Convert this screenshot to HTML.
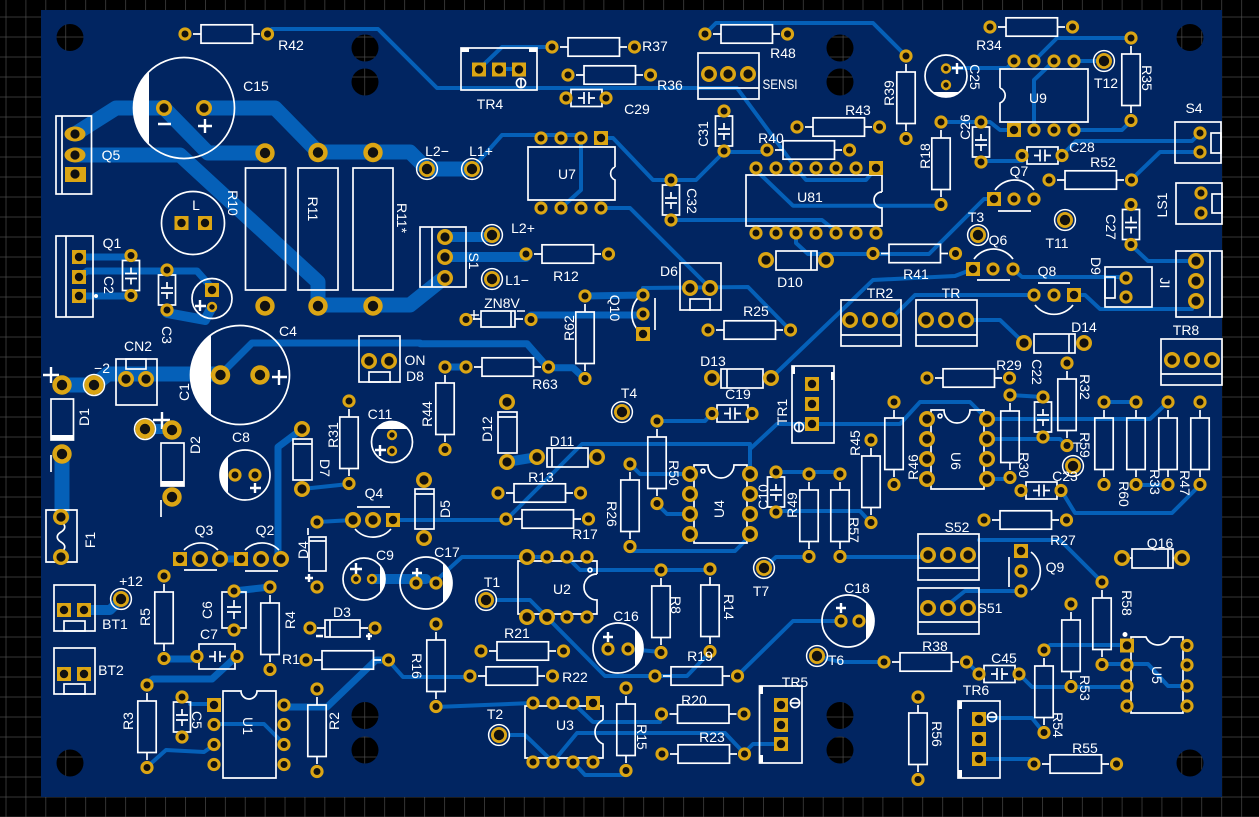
<!DOCTYPE html>
<html><head><meta charset="utf-8"><style>
html,body{margin:0;padding:0;background:#000}
svg{display:block}
text{fill:#fff;font-family:"Liberation Sans",sans-serif;font-size:14px;text-anchor:middle;dominant-baseline:central}
.t{fill:none;stroke:#0560b8;stroke-linejoin:round;stroke-linecap:round}
.s{fill:none;stroke:#fff;stroke-width:1.7}
.w{fill:#fff;stroke:none}
</style></head><body>
<svg xmlns="http://www.w3.org/2000/svg" width="1259" height="817" viewBox="0 0 1259 817">
<defs>
<pattern id="g" x="5.7" y="16.7" width="19.93" height="20" patternUnits="userSpaceOnUse"><path d="M0 0V20M0 0H19.93" stroke="#555" stroke-width="1.2" fill="none"/></pattern>
<g id="p"><circle r="6.6" fill="#dba514"/><circle r="3.5" fill="#111"/></g>
<g id="o"><circle r="5.2" fill="#dba514"/><circle r="2.7" fill="#111"/></g>
<g id="m"><circle r="8" fill="#dba514"/><circle r="4.6" fill="#111"/></g>
<g id="b"><circle r="9.7" fill="#dba514"/><circle r="5.2" fill="#111"/></g>
<g id="q"><rect x="-7" y="-7" width="14" height="14" fill="#dba514"/><circle r="4.2" fill="#111"/></g>
<g id="tp"><circle r="10.4" fill="none" stroke="#fff" stroke-width="1.5"/><circle r="8" fill="#dba514"/><circle r="5.2" fill="#111"/></g>
<g id="rh"><path class="s" d="M8 0H16M67.5 0H75"/><rect class="s" x="16" y="-9.2" width="51.5" height="18.4"/><use href="#p"/><use href="#p" x="82.5"/></g>
<g id="rv"><path class="s" d="M0 8V16M0 67.5V75"/><rect class="s" x="-9.2" y="16" width="18.4" height="51.5"/><use href="#p"/><use href="#p" y="82.5"/></g>
<g id="ch"><rect class="s" x="5" y="-8.5" width="31" height="17"/><path class="s" d="M12 0H18M18 -6V6M23 -6V6M23 0H29"/><use href="#p"/><use href="#p" x="40"/></g>
<g id="cv"><rect class="s" x="-8.5" y="5" width="17" height="30"/><path class="s" d="M0 12V18M-6 18H6M-6 23H6M0 23V29"/><use href="#p"/><use href="#p" y="40"/></g>
</defs>
<rect width="1259" height="817" fill="#000"/>
<rect width="1259" height="817" fill="url(#g)"/>
<path fill="#012561" fill-rule="evenodd" d="M41 10H1222V797H41Z
M56.5 37.5a13.5 13.5 0 1 0 27 0a13.5 13.5 0 1 0-27 0Z
M351.5 48a13.5 13.5 0 1 0 27 0a13.5 13.5 0 1 0-27 0Z
M351.5 82a13.5 13.5 0 1 0 27 0a13.5 13.5 0 1 0-27 0Z
M826.5 48a13.5 13.5 0 1 0 27 0a13.5 13.5 0 1 0-27 0Z
M826.5 82a13.5 13.5 0 1 0 27 0a13.5 13.5 0 1 0-27 0Z
M1176.5 37.5a13.5 13.5 0 1 0 27 0a13.5 13.5 0 1 0-27 0Z
M56.5 763a13.5 13.5 0 1 0 27 0a13.5 13.5 0 1 0-27 0Z
M351.5 715.5a13.5 13.5 0 1 0 27 0a13.5 13.5 0 1 0-27 0Z
M351.5 750a13.5 13.5 0 1 0 27 0a13.5 13.5 0 1 0-27 0Z
M826.5 715.5a13.5 13.5 0 1 0 27 0a13.5 13.5 0 1 0-27 0Z
M826.5 750a13.5 13.5 0 1 0 27 0a13.5 13.5 0 1 0-27 0Z
M1176.5 763a13.5 13.5 0 1 0 27 0a13.5 13.5 0 1 0-27 0Z"/>

<!-- thick traces -->
<g class="t" stroke-width="15">
<path d="M75 134L116 108H164L208 153H265"/>
<path d="M204 108H275L318 152H410L427 169H472"/>
<path d="M75 155H180L318 282V305H410L440 281"/>
<path d="M62 385H94L108 374H220"/>
<path d="M62 454V517"/>
</g>
<g class="t" stroke-width="10">
<path d="M445 237H492M445 257H526"/>
<path d="M84 610H110L121 599"/>
<path d="M372 579H426"/>
<path d="M145 429H172"/>
<path d="M167 313L205 320L212 307"/>
<path d="M507 462L537 457"/>
</g>
<g class="t" stroke-width="7">
<path d="M531 315H643M585 296L643 295"/>
<path d="M445 367H466"/>
<path d="M420 343.7H527L548 367.7H573L585 379"/>
<path d="M220 375L252 343H420"/>
<path d="M164 659H197M147 685L153 679H212L237 656"/>
<path d="M234 591L270 587"/>
<path d="M388 660H376L327 707H285"/>
<path d="M302 429L278 447V559H281"/>
<path d="M220 559H241"/>
<path d="M79 257H131M79 277L87 271H197L212 288M79 296H131"/>
</g>
<g class="t" stroke-width="4">
<path d="M272 29H378L437 88H737L796 168L806 180H866L876 168"/>
<path d="M705 34L716 23H873L906 56"/>
<path d="M479 69L502 47H552M499 69H519"/>
<path d="M472 169L502 135H581M581 138V190L561 208"/>
<path d="M601 138H613L653 180H696L724 152H767"/>
<path d="M671 220H822L837 232"/>
<path d="M601 208H630L710 288"/>
<path d="M643 288L748 287L790 330"/>
<path d="M761 175L793 205.7H941"/>
<path d="M796 232V243L808 254H873M808 254H929L984 199H994"/>
<path d="M771 378L840 312L873 280L955 276L973 269"/>
<path d="M1013 269L1022 277H1126"/>
<path d="M890 320L915 295H1034M1074 295H1085L1100 309H1192"/>
<path d="M966 320H1000L1024 343"/>
<path d="M947 68H1007L1014 61M1034 61L1057 38H1131M1054 61L1034 80V130M1074 61H1104M1074 130H1122L1131 121"/>
<path d="M941 122H990L1000 130H1014M981 161H1022"/>
<path d="M1062 155L1076 141H1192L1200 133M1131 180L1160 152H1200"/>
<path d="M1131 245L1148 261H1196"/>
<path d="M840 424H900L920 402H970L987 419H1150L1168 402"/>
<path d="M987 439H1060L1067 446M987 479H1010M1010 395L1043 397"/>
<path d="M1061 490L1075 513H1172L1200 485"/>
<path d="M1104 402H1136M1136 485H1168"/>
<path d="M393 520H506L582 444H750V467M750 449L777 424H840"/>
<path d="M657 421H705L712 413"/>
<path d="M630 464L640 474H690M657 504L667 514H690"/>
<path d="M776 472H840M776 511H860L871 523"/>
<path d="M633 551H735L750 536"/>
<path d="M317 522L353 520M302 489L349 484"/>
<path d="M440 577L462 557H547"/>
<path d="M567 557L580 570H710"/>
<path d="M497 600H530L605 676H655H687L710 652"/>
<path d="M737 676L793 621H841"/>
<path d="M628 649L661 652"/>
<path d="M388 660L403 677H470"/>
<path d="M436 707L533 703"/>
<path d="M573 703L593 722H660L662 714"/>
<path d="M573 762L585 775H626"/>
<path d="M510 735H525L553 762L577 733H725L744 753L753 744H781"/>
<path d="M214 724H264L284 744M190 704H214"/>
<path d="M147 767L166 750L204 752L214 745"/>
<path d="M764 568L776 557H809"/>
<path d="M840 557H928"/>
<path d="M950 603L965 591H1021"/>
<path d="M979 540H1060L1102 582"/>
<path d="M817 656L840 662H884M967 662L979 674M1019 674L1032 687H1127"/>
<path d="M1044 650L1050 645H1127M1102 664H1148L1168 686H1187"/>
<path d="M992 718H1032L1044 733M979 759H1030L1034 764"/>
</g>

<!-- silk -->
<g class="s">
<circle cx="184" cy="108" r="50.5"/>
<rect x="56" y="116" width="35.5" height="78"/><path d="M62 116V194"/>
<rect x="245.5" y="168" width="40" height="122"/><rect x="298" y="168" width="40" height="122"/><rect x="353" y="168" width="40" height="122"/>
<circle cx="193" cy="223" r="31.5"/>
<rect x="56" y="236" width="37" height="81"/><path d="M66 236V317"/>
<circle cx="212" cy="298.5" r="20"/>
<circle cx="240" cy="375" r="49.5"/>
<rect x="116" y="359" width="41" height="46"/><rect x="126" y="359" width="20" height="10"/>
<rect x="51" y="399" width="22.5" height="41"/><path d="M51 455V472"/>
<path d="M46 552V510H77V562H46V552M61 522c5 3 5 7 0 10s-5 7 0 10s5 7 0 10"/>
<rect x="161" y="443" width="23" height="43"/><path d="M161 500V517"/>
<circle cx="245" cy="475" r="25"/>
<rect x="293" y="439" width="19" height="41"/><path d="M293 444H312"/>
<circle cx="392" cy="442" r="20.5"/>
<rect x="359" y="336" width="41" height="46"/><rect x="369" y="372" width="21" height="10"/>
<path d="M357 507H390M355 529A24 24 0 0 0 391 529"/>
<path d="M184 550A24 24 0 0 1 218 550M184 570H217M245 550A24 24 0 0 1 279 550M245 571H278"/>
<rect x="309" y="537" width="17" height="34"/><path d="M309 541H326M308 528V535"/>
<rect x="415" y="489" width="19" height="40"/><path d="M415 494H434"/>
<circle cx="364" cy="579" r="21"/><circle cx="426" cy="583" r="26"/>
<path d="M597 574V561H518V614H597V600A13 13 0 0 1 597 574"/>
<circle cx="618" cy="648" r="25"/>
<path d="M223 691H241A8 8 0 0 0 257 691H276V778H223Z"/>
<rect x="222" y="592" width="24" height="36"/><path d="M234 600V607M227 607H241M227 612H241M234 612V619"/>
<rect x="199" y="644" width="36" height="25"/><path d="M209 656.5H215M215 651V662M220 651V662M220 656.5H226"/>
<rect x="54" y="585" width="41" height="46"/><rect x="64" y="621" width="21" height="10"/>
<rect x="54" y="648" width="41" height="46"/><rect x="64" y="684" width="21" height="10"/>
<path d="M325 620H360V637H325ZM330 620V637M317 628H325M360 628H368"/>
<path d="M603 720V706H525V758H603V744A13 13 0 0 1 603 720"/>
<rect x="759.5" y="686" width="42.5" height="77"/>
<circle cx="848" cy="621" r="26"/>
<rect x="918" y="534" width="61" height="46"/><path d="M918 568H979"/>
<rect x="918" y="588" width="61" height="46"/><path d="M918 622H979"/>
<path d="M1009 557V587M1031 552A24 24 0 0 1 1031 590"/>
<rect x="1132" y="549" width="41" height="19"/><path d="M1168 549V568M1122 558H1132M1173 558H1182"/>
<path d="M1131 650V713H1183V637H1170A13 13 0 0 1 1146 637H1131V650"/>
<rect x="958" y="701" width="42" height="77"/>
<rect x="1034" y="334" width="41" height="19"/><path d="M1069 334V353"/>
<rect x="916" y="300" width="61" height="46"/><path d="M916 335H977"/>
<rect x="841" y="300" width="60" height="46"/><path d="M841 335H901"/>
<path d="M1038 283H1070M1035 305A24 24 0 0 0 1073 305"/>
<rect x="1161" y="339" width="61" height="46"/><path d="M1161 374H1222"/>
<rect x="1176" y="251" width="46" height="66"/><path d="M1210 251V317"/>
<rect x="1105" y="267" width="47" height="40"/><rect x="1105" y="277" width="10" height="21"/>
<path d="M974 259A24 24 0 0 1 1013 259M977 280H1010"/>
<path d="M995 190A24 24 0 0 1 1034 190M998 211H1031"/>
<rect x="776" y="251" width="41" height="19"/><path d="M811 251V270"/>
<path d="M882 192V175H746V226H882V208A8 8 0 0 1 882 192"/>
<rect x="461" y="48" width="76" height="42"/>
<rect x="698" y="53" width="61" height="46"/><path d="M698 88H759"/>
<circle cx="946" cy="76" r="21"/>
<path d="M1000 88V69H1088V122H1000V103A8 8 0 0 0 1000 88"/>
<path d="M615 167V147H528V200H615V180A7 7 0 0 1 615 167"/>
<rect x="420" y="227" width="46" height="60"/><path d="M432 227V287"/>
<rect x="680" y="263" width="41" height="47"/><rect x="690" y="299" width="20" height="11"/>
<path d="M481 311H515V327H481ZM511 311V327M473 319H481M515 319H523"/>
<path d="M655 298V330M640 296A24 24 0 0 0 640 332"/>
<rect x="721" y="369" width="42" height="19"/><path d="M727 369V388"/>
<rect x="792" y="366" width="42" height="77"/>
<rect x="498" y="412" width="19" height="41"/><path d="M498 417H517"/>
<rect x="547" y="448" width="41" height="19"/><path d="M552 448V467"/>
<path d="M694 465H708A13 13 0 0 0 734 465H747V543H694Z"/>
<path d="M931 410H944A13 13 0 0 0 970 410H984V489H931Z"/>
<rect x="1175" y="122" width="46" height="41"/><rect x="1211" y="133" width="10" height="20"/>
<rect x="1176" y="183" width="46" height="41"/><rect x="1212" y="194" width="10" height="19"/>
</g>
<!-- white fills -->
<g class="w">
<path d="M149 71.6A50.5 50.5 0 0 0 149 144.4Z"/>
<path d="M211 334.3A50 50 0 0 0 211 415.7Z"/>
<path d="M228 456.7A25 25 0 0 0 228 493.3Z"/>
<path d="M376 429A20.5 20.5 0 0 1 408 429Z"/>
<path d="M380 565.4A21 21 0 0 1 380 592.6Z"/>
<path d="M443 563.3A26 26 0 0 1 443 602.7Z"/>
<path d="M635 629.7A25 25 0 0 1 635 666.3Z"/>
<path d="M866 602.2A26 26 0 0 1 866 639.8Z"/>
<path d="M932.4 92A21 21 0 0 0 959.6 92Z"/>
<rect x="51" y="435" width="22.5" height="5.5"/>
<rect x="161" y="481" width="23" height="5.5"/>
<circle cx="96" cy="296" r="2"/><circle cx="1125" cy="634.5" r="2.5"/>
<rect x="461" y="48" width="8" height="4"/><rect x="529" y="48" width="8" height="4"/>
<rect x="759.5" y="686" width="3.5" height="8"/><rect x="759.5" y="755" width="3.5" height="8"/>
<rect x="958" y="701" width="4" height="8"/><rect x="958" y="770" width="4" height="8"/>
<rect x="792" y="366" width="3" height="8"/><rect x="831" y="372" width="3" height="8"/>
</g>
<!-- plus / minus marks -->
<g stroke="#fff" stroke-width="2.4" fill="none">
<path d="M158 124H171M198 126H212M205 119V133"/>
<path d="M43 375H59M51 367V383M153 420H170M162 412V429M272 377H287M279 370V385"/>
<path d="M250 488H261M255 483V493M375 450H386M380 445V456M350 569H362M356 563V575"/>
<path d="M412 573H422M417 568V578M603 637H613M608 632V642M836 608H846M841 603V613"/>
<path d="M195 306H206M200 300V311M952 68H963M957 63V74M305 578H313M309 574V582M366 636H372M369 633V640M316 636H323"/>
</g>
<g stroke="#fff" stroke-width="1.4" fill="none">
<path d="M469 315H479M474 310V320M517 311H525"/>
</g>

<!-- components with pads -->
<use href="#rh" x="185" y="34"/><use href="#rh" x="705" y="34"/><use href="#rh" x="552" y="47"/><use href="#rh" x="568" y="75"/>
<use href="#rh" x="990" y="27"/><use href="#rh" x="797" y="127"/><use href="#rh" x="767" y="150"/><use href="#rh" x="1049" y="180"/>
<use href="#rh" x="873" y="253.5"/><use href="#rh" x="526" y="254"/><use href="#rh" x="708" y="330"/><use href="#rh" x="466" y="367"/>
<use href="#rh" x="927" y="378"/><use href="#rh" x="498" y="493"/><use href="#rh" x="506" y="519"/><use href="#rh" x="984" y="520"/>
<use href="#rh" x="481" y="651"/><use href="#rh" x="306" y="660"/><use href="#rh" x="884" y="662"/><use href="#rh" x="470" y="676"/>
<use href="#rh" x="655" y="676"/><use href="#rh" x="661.5" y="714"/><use href="#rh" x="662" y="754"/><use href="#rh" x="1034" y="764"/>
<use href="#rv" x="906" y="56"/><use href="#rv" x="1131" y="38"/><use href="#rv" x="941" y="122"/><use href="#rv" x="585" y="296"/>
<use href="#rv" x="1067" y="363"/><use href="#rv" x="445" y="367"/><use href="#rv" x="1010" y="395"/><use href="#rv" x="349" y="401"/>
<use href="#rv" x="894" y="402"/><use href="#rv" x="1104" y="402"/><use href="#rv" x="1136" y="402"/><use href="#rv" x="1168" y="402"/><use href="#rv" x="1200" y="402"/>
<use href="#rv" x="657" y="421"/><use href="#rv" x="871" y="440"/><use href="#rv" x="630" y="464"/><use href="#rv" x="809" y="474"/><use href="#rv" x="840" y="474"/>
<use href="#rv" x="661" y="570"/><use href="#rv" x="710" y="569"/><use href="#rv" x="164" y="576"/><use href="#rv" x="270" y="587"/>
<use href="#rv" x="1102" y="582"/><use href="#rv" x="1071" y="604"/><use href="#rv" x="436" y="624"/><use href="#rv" x="1044" y="650"/>
<use href="#rv" x="147" y="685"/><use href="#rv" x="317" y="689"/><use href="#rv" x="626" y="688"/><use href="#rv" x="918" y="697"/>
<use href="#ch" x="566" y="98"/><use href="#ch" x="1022" y="155.5"/><use href="#ch" x="712" y="413.5"/><use href="#ch" x="1021" y="490.5"/><use href="#ch" x="979" y="674"/>
<use href="#p" x="197" y="656.5"/><use href="#p" x="237" y="656.5"/>
<use href="#cv" x="724" y="111"/><use href="#cv" x="671" y="180"/><use href="#cv" x="981" y="122"/><use href="#cv" x="1131" y="204.5"/>
<use href="#cv" x="1043" y="397"/><use href="#cv" x="776" y="472"/><use href="#cv" x="182" y="697"/><use href="#cv" x="131" y="255.5"/><use href="#cv" x="167" y="270"/>
<use href="#p" x="234" y="591"/><use href="#p" x="234" y="630"/>

<!-- Q5 pads -->
<ellipse cx="75" cy="134" rx="10.5" ry="7.5" fill="#dba514"/><circle cx="75" cy="134" r="4.6" fill="#111"/>
<ellipse cx="75" cy="155" rx="10.5" ry="7.5" fill="#dba514"/><circle cx="75" cy="155" r="4.6" fill="#111"/>
<rect x="65" y="167" width="21" height="15" fill="#dba514"/><circle cx="75" cy="174" r="4.6" fill="#111"/>
<!-- big/medium pads -->
<use href="#m" x="164" y="108"/><use href="#m" x="204" y="108"/>
<use href="#b" x="265" y="153"/><use href="#b" x="318" y="152.5"/><use href="#b" x="373" y="152.5"/>
<use href="#b" x="265" y="306"/><use href="#b" x="318" y="306"/><use href="#b" x="373" y="306"/>
<use href="#b" x="220.5" y="375"/><use href="#b" x="260" y="375"/>
<use href="#b" x="62" y="385"/><circle cx="94" cy="385" r="10.5" fill="none" stroke="#fff" stroke-width="1.5"/><use href="#b" x="94" y="385"/>
<use href="#b" x="62" y="454"/><use href="#m" x="61" y="517"/><use href="#m" x="61" y="557"/>
<circle cx="145" cy="429" r="10.5" fill="none" stroke="#fff" stroke-width="1.5"/><use href="#b" x="145" y="429"/><use href="#b" x="172" y="430"/><use href="#b" x="172" y="497"/>
<use href="#p" x="235" y="475"/><use href="#p" x="255" y="475"/>
<use href="#m" x="302" y="429"/><use href="#m" x="302" y="489"/>
<use href="#m" x="126" y="379"/><use href="#m" x="146" y="379"/><use href="#m" x="369" y="361"/><use href="#m" x="389" y="361"/>
<use href="#o" x="392" y="435"/><use href="#o" x="392" y="451"/><use href="#o" x="356" y="579"/><use href="#o" x="372" y="579"/>
<use href="#p" x="416" y="583"/><use href="#p" x="436" y="583"/><use href="#p" x="608" y="649"/><use href="#p" x="628" y="649"/>
<use href="#p" x="841" y="621"/><use href="#p" x="859" y="621"/><use href="#o" x="946" y="68.5"/><use href="#o" x="946" y="85"/>
<use href="#q" x="181.5" y="223"/><use href="#q" x="205" y="223"/>
<use href="#q" x="79" y="257"/><use href="#q" x="79" y="277"/><use href="#q" x="79" y="296"/>
<use href="#q" x="212" y="290"/><use href="#o" x="212" y="307"/>
<use href="#p" x="317" y="522"/><use href="#p" x="317" y="587"/>
<use href="#m" x="353" y="520"/><use href="#m" x="373" y="520"/><use href="#q" x="393" y="520"/>
<use href="#q" x="180" y="559"/><use href="#m" x="200" y="559"/><use href="#m" x="220" y="559"/>
<use href="#q" x="241" y="559"/><use href="#m" x="261" y="559"/><use href="#m" x="281" y="559"/>
<use href="#m" x="424" y="480"/><use href="#m" x="424" y="538"/>
<use href="#q" x="64" y="610"/><use href="#q" x="84" y="610"/><use href="#q" x="64" y="674"/><use href="#q" x="84" y="674"/>
<use href="#p" x="310" y="628"/><use href="#p" x="375" y="628"/>
<!-- U1 -->
<use href="#q" x="214" y="705"/><use href="#p" x="214" y="724.5"/><use href="#p" x="214" y="744.5"/><use href="#p" x="214" y="764.5"/>
<use href="#p" x="284" y="705"/><use href="#p" x="284" y="724.5"/><use href="#p" x="284" y="744.5"/><use href="#p" x="284" y="764.5"/>
<!-- U2 -->
<use href="#m" x="527" y="557"/><use href="#p" x="547" y="557"/><use href="#p" x="567" y="557"/><use href="#p" x="587" y="557"/>
<use href="#m" x="527" y="617"/><use href="#m" x="547" y="617"/><use href="#p" x="567" y="617"/><use href="#p" x="587" y="617"/>
<!-- U3 -->
<use href="#p" x="533" y="703"/><use href="#p" x="553" y="703"/><use href="#p" x="573" y="703"/><use href="#q" x="593" y="703"/>
<use href="#p" x="533" y="762"/><use href="#p" x="553" y="762"/><use href="#p" x="573" y="762"/><use href="#p" x="593" y="762"/>
<!-- U4 -->
<use href="#m" x="690" y="474"/><use href="#m" x="690" y="494"/><use href="#m" x="690" y="514"/><use href="#m" x="690" y="534"/>
<use href="#m" x="750" y="474"/><use href="#m" x="750" y="494"/><use href="#m" x="750" y="514"/><use href="#m" x="750" y="534"/>
<!-- U5 -->
<use href="#q" x="1127" y="645.5"/><use href="#p" x="1127" y="665"/><use href="#p" x="1127" y="686"/><use href="#p" x="1127" y="706"/>
<use href="#p" x="1187" y="645.5"/><use href="#p" x="1187" y="665"/><use href="#p" x="1187" y="686"/><use href="#p" x="1187" y="706"/>
<!-- U6 -->
<use href="#m" x="927" y="419"/><use href="#m" x="927" y="439"/><use href="#m" x="927" y="459"/><use href="#m" x="927" y="479"/>
<use href="#m" x="987" y="419"/><use href="#m" x="987" y="439"/><use href="#m" x="987" y="459"/><use href="#m" x="987" y="479"/>
<!-- U7 -->
<use href="#p" x="541" y="138"/><use href="#p" x="561" y="138"/><use href="#p" x="581" y="138"/><use href="#q" x="601" y="138"/>
<use href="#p" x="541" y="208"/><use href="#p" x="561" y="208"/><use href="#p" x="581" y="208"/><use href="#p" x="601" y="208"/>
<!-- U81 -->
<use href="#p" x="756" y="168"/><use href="#p" x="776" y="168"/><use href="#p" x="796" y="168"/><use href="#p" x="816" y="168"/><use href="#p" x="836" y="168"/><use href="#p" x="856" y="168"/><use href="#q" x="876" y="168"/>
<use href="#p" x="756" y="233"/><use href="#p" x="776" y="233"/><use href="#p" x="796" y="233"/><use href="#p" x="816" y="233"/><use href="#p" x="836" y="233"/><use href="#p" x="856" y="233"/><use href="#p" x="876" y="233"/>
<!-- U9 -->
<use href="#p" x="1014" y="61"/><use href="#p" x="1034" y="61"/><use href="#p" x="1054" y="61"/><use href="#p" x="1074" y="61"/>
<use href="#q" x="1014" y="130"/><use href="#p" x="1034" y="130"/><use href="#p" x="1054" y="130"/><use href="#p" x="1074" y="130"/>
<!-- connectors -->
<use href="#q" x="479" y="69.5"/><use href="#q" x="499" y="69.5"/><use href="#q" x="519" y="69.5"/>
<use href="#m" x="709" y="74"/><use href="#m" x="728" y="74"/><use href="#m" x="748" y="74"/>
<use href="#m" x="445" y="237"/><use href="#m" x="445" y="257"/><use href="#m" x="445" y="278"/>
<use href="#m" x="690" y="288"/><use href="#m" x="710" y="288"/>
<use href="#p" x="643" y="295"/><use href="#p" x="643" y="314"/><use href="#q" x="643" y="334"/>
<use href="#p" x="466" y="319.5"/><use href="#p" x="531" y="319.5"/>
<use href="#m" x="712" y="378"/><use href="#m" x="771" y="378"/>
<use href="#m" x="507" y="402"/><use href="#m" x="507" y="462"/>
<use href="#m" x="537" y="457"/><use href="#m" x="597" y="457"/>
<use href="#q" x="812" y="384"/><use href="#q" x="812" y="404"/><use href="#q" x="812" y="424"/>
<use href="#q" x="781" y="705"/><use href="#q" x="781" y="725"/><use href="#q" x="781" y="744"/>
<use href="#q" x="979" y="719"/><use href="#q" x="979" y="739"/><use href="#q" x="979" y="759"/>
<use href="#m" x="928" y="555"/><use href="#m" x="948" y="555"/><use href="#m" x="968" y="555"/>
<use href="#m" x="928" y="608"/><use href="#m" x="948" y="608"/><use href="#m" x="968" y="608"/>
<use href="#q" x="1021" y="551"/><use href="#p" x="1021" y="571"/><use href="#p" x="1021" y="591"/>
<use href="#m" x="1122" y="558"/><use href="#m" x="1182" y="558"/>
<use href="#m" x="1024" y="343"/><use href="#m" x="1084" y="343"/>
<use href="#m" x="926" y="320"/><use href="#m" x="946" y="320"/><use href="#m" x="966" y="320"/>
<use href="#m" x="850" y="320"/><use href="#m" x="870" y="320"/><use href="#m" x="890" y="320"/>
<use href="#p" x="1034" y="295"/><use href="#p" x="1054" y="295"/><use href="#q" x="1074" y="295"/>
<use href="#m" x="1172" y="360"/><use href="#m" x="1192" y="360"/><use href="#m" x="1212" y="360"/>
<use href="#m" x="1196" y="261"/><use href="#m" x="1196" y="281"/><use href="#m" x="1196" y="301"/>
<use href="#p" x="1126" y="278"/><use href="#p" x="1126" y="297"/>
<use href="#q" x="973" y="269"/><use href="#p" x="993" y="269"/><use href="#p" x="1013" y="269"/>
<use href="#q" x="994" y="199"/><use href="#p" x="1014" y="199"/><use href="#p" x="1034" y="199"/>
<use href="#m" x="766" y="260"/><use href="#m" x="826" y="260"/>
<use href="#p" x="1200" y="133"/><use href="#p" x="1200" y="152"/><use href="#p" x="1201" y="193"/><use href="#p" x="1201" y="213"/>
<!-- test points -->
<use href="#tp" x="427" y="169"/><use href="#tp" x="472" y="169"/><use href="#tp" x="492" y="235"/><use href="#tp" x="492" y="279"/>
<use href="#tp" x="121" y="599"/><use href="#tp" x="486" y="600"/><use href="#tp" x="499" y="735"/><use href="#tp" x="622" y="412"/>
<use href="#tp" x="764" y="568"/><use href="#tp" x="817" y="656"/><use href="#tp" x="1104" y="61"/><use href="#tp" x="978" y="235"/>
<use href="#tp" x="1065" y="220"/><use href="#tp" x="1073" y="466"/>
<!-- small silk marks above pads -->
<g fill="none" stroke="#fff" stroke-width="1.6">
<circle cx="521" cy="83" r="4.6"/><path d="M521 78.5V87.5"/>
<circle cx="799" cy="427" r="4.6"/><path d="M799 422.5V431.5"/>
<circle cx="795" cy="703" r="4.6"/><path d="M790.5 703H799.5"/>
<circle cx="992" cy="717" r="4.6"/><path d="M987.5 717H996.5"/>
<circle cx="590" cy="570" r="2"/><circle cx="703" cy="471" r="2"/><circle cx="940" cy="416" r="2"/>
</g>

<!-- labels -->
<text x="291" y="45">R42</text><text x="256" y="86">C15</text><text x="111" y="155">Q5</text><text x="196" y="205">L</text>
<text x="112" y="243">Q1</text><text x="233" y="203" transform="rotate(90 233 203)">R10</text><text x="313" y="209" transform="rotate(90 313 209)">R11</text><text x="402" y="218" transform="rotate(90 402 218)">R11*</text>
<text x="109" y="285" transform="rotate(90 109 285)">C2</text><text x="167" y="335" transform="rotate(90 167 335)">C3</text>
<text x="288" y="331">C4</text><text x="184" y="392" transform="rotate(-90 184 392)">C1</text><text x="138" y="346">CN2</text><text x="102" y="368">−2</text>
<text x="84" y="417" transform="rotate(-90 84 417)">D1</text><text x="90" y="540" transform="rotate(-90 90 540)">F1</text><text x="195" y="445" transform="rotate(-90 195 445)">D2</text>
<text x="241" y="437">C8</text><text x="325" y="468" transform="rotate(90 325 468)">D7</text><text x="333" y="435" transform="rotate(-90 333 435)">R31</text>
<text x="380" y="414">C11</text><text x="415" y="360">ON</text><text x="415" y="376">D8</text><text x="374" y="493">Q4</text>
<text x="204" y="530">Q3</text><text x="265" y="530">Q2</text><text x="303" y="550" transform="rotate(-90 303 550)">D4</text><text x="445" y="509" transform="rotate(-90 445 509)">D5</text>
<text x="385" y="555">C9</text><text x="447" y="552">C17</text><text x="131" y="581">+12</text><text x="115" y="624">BT1</text><text x="111" y="670">BT2</text>
<text x="145" y="617" transform="rotate(-90 145 617)">R5</text><text x="207" y="610" transform="rotate(-90 207 610)">C6</text><text x="209" y="634">C7</text>
<text x="290" y="620" transform="rotate(-90 290 620)">R4</text><text x="342" y="612">D3</text><text x="291" y="659">R1</text>
<text x="128" y="721" transform="rotate(-90 128 721)">R3</text><text x="197" y="720" transform="rotate(90 197 720)">C5</text><text x="248" y="726" transform="rotate(90 248 726)">U1</text><text x="334" y="721" transform="rotate(-90 334 721)">R2</text>
<text x="417" y="666" transform="rotate(90 417 666)">R16</text><text x="562" y="589">U2</text><text x="492" y="582">T1</text><text x="517" y="633">R21</text><text x="575" y="677">R22</text>
<text x="626" y="616">C16</text><text x="676" y="605" transform="rotate(90 676 605)">R8</text><text x="729" y="607" transform="rotate(90 729 607)">R14</text><text x="700" y="656">R19</text>
<text x="761" y="591">T7</text><text x="495" y="714">T2</text><text x="565" y="725">U3</text><text x="642" y="737" transform="rotate(90 642 737)">R15</text><text x="694" y="700">R20</text><text x="712" y="737">R23</text><text x="795" y="682">TR5</text>
<text x="857" y="588">C18</text><text x="836" y="660">T6</text><text x="935" y="646">R38</text><text x="1004" y="658">C45</text><text x="976" y="690">TR6</text>
<text x="937" y="734" transform="rotate(90 937 734)">R56</text><text x="1085" y="748">R55</text><text x="1058" y="725" transform="rotate(90 1058 725)">R54</text><text x="1085" y="688" transform="rotate(90 1085 688)">R53</text>
<text x="1127" y="603" transform="rotate(90 1127 603)">R58</text><text x="1157" y="675" transform="rotate(90 1157 675)">U5</text><text x="1055" y="567">Q9</text><text x="990" y="608">S51</text><text x="957" y="527">S52</text>
<text x="1160" y="543">Q16</text><text x="1063" y="540">R27</text><text x="1065" y="476">C23</text><text x="1077" y="447">T</text><text x="1085" y="445" transform="rotate(90 1085 445)">R59</text>
<text x="1085" y="387" transform="rotate(90 1085 387)">R32</text><text x="1024" y="465" transform="rotate(90 1024 465)">R30</text><text x="1037" y="372" transform="rotate(90 1037 372)">C22</text><text x="1009" y="365">R29</text>
<text x="956" y="461" transform="rotate(90 956 461)">U6</text><text x="913" y="467" transform="rotate(-90 913 467)">R46</text><text x="855" y="443" transform="rotate(-90 855 443)">R45</text><text x="854" y="530" transform="rotate(90 854 530)">R57</text>
<text x="1124" y="494" transform="rotate(90 1124 494)">R60</text><text x="1155" y="482" transform="rotate(90 1155 482)">R33</text><text x="1185" y="483" transform="rotate(90 1185 483)">R47</text>
<text x="1084" y="327">D14</text><text x="951" y="293">TR</text><text x="880" y="293">TR2</text><text x="1047" y="271">Q8</text><text x="1186" y="330">TR8</text>
<text x="1165" y="283" transform="rotate(90 1165 283)">JI</text><text x="1096" y="266" transform="rotate(90 1096 266)">D9</text><text x="998" y="240">Q6</text><text x="916" y="274">R41</text><text x="790" y="282">D10</text>
<text x="1019" y="171">Q7</text><text x="976" y="217">T3</text><text x="1057" y="243">T11</text><text x="1111" y="227" transform="rotate(90 1111 227)">C27</text><text x="1162" y="205" transform="rotate(-90 1162 205)">LS1</text><text x="1194" y="108">S4</text>
<text x="1103" y="162">R52</text><text x="1082" y="147">C28</text><text x="965" y="127" transform="rotate(-90 965 127)">C26</text><text x="925" y="156" transform="rotate(-90 925 156)">R18</text>
<text x="1038" y="98">U9</text><text x="1106" y="83">T12</text><text x="989" y="45">R34</text><text x="1147" y="78" transform="rotate(90 1147 78)">R35</text>
<text x="975" y="77" transform="rotate(90 975 77)">C25</text><text x="889" y="93" transform="rotate(-90 889 93)">R39</text><text x="783" y="53">R48</text><text x="858" y="110">R43</text><text x="771" y="138">R40</text>
<text x="810" y="197">U81</text><text x="703" y="134" transform="rotate(-90 703 134)">C31</text><text x="692" y="201" transform="rotate(90 692 201)">C32</text><text x="567" y="174">U7</text>
<text x="655" y="46">R37</text><text x="670" y="85">R36</text><text x="637" y="109">C29</text><text x="490" y="104">TR4</text><text x="780" y="84" textLength="35" lengthAdjust="spacingAndGlyphs">SENSI</text>
<text x="437" y="151">L2−</text><text x="481" y="151">L1+</text><text x="523" y="228">L2+</text><text x="517" y="280">L1−</text><text x="474" y="261" transform="rotate(90 474 261)">S1</text>
<text x="566" y="276">R12</text><text x="669" y="271">D6</text><text x="502" y="303">ZN8V</text><text x="569" y="328" transform="rotate(-90 569 328)">R62</text><text x="615" y="308" transform="rotate(90 615 308)">Q10</text>
<text x="756" y="311">R25</text><text x="713" y="361">D13</text><text x="738" y="394">C19</text><text x="782" y="412" transform="rotate(-90 782 412)">TR1</text><text x="629" y="393">T4</text>
<text x="545" y="384">R63</text><text x="427" y="414" transform="rotate(-90 427 414)">R44</text><text x="487" y="429" transform="rotate(-90 487 429)">D12</text><text x="562" y="441">D11</text>
<text x="541" y="477">R13</text><text x="585" y="534">R17</text><text x="612" y="514" transform="rotate(90 612 514)">R26</text><text x="674" y="473" transform="rotate(90 674 473)">R50</text>
<text x="719" y="509" transform="rotate(-90 719 509)">U4</text><text x="763" y="497" transform="rotate(-90 763 497)">C10</text><text x="792" y="505" transform="rotate(-90 792 505)">R49</text>
</svg>
</body></html>
